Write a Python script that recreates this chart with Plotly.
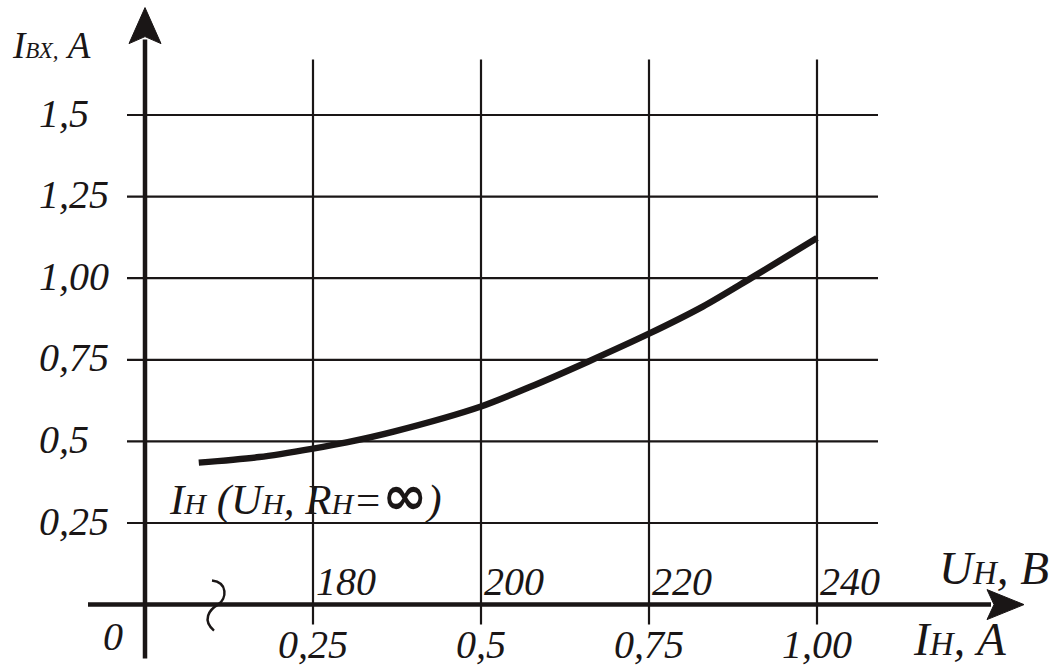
import plotly.graph_objects as go

# ---- data ----
i_load = [0.08, 0.17, 0.25, 0.30, 0.37, 0.50, 0.58, 0.66, 0.75, 0.83, 0.90, 1.00]
i_in = [0.435, 0.452, 0.478, 0.497, 0.530, 0.607, 0.673, 0.745, 0.830, 0.913, 0.998, 1.123]

y_ticks = [0.25, 0.5, 0.75, 1.0, 1.25, 1.5]
y_labels = ["0,25", "0,5", "0,75", "1,00", "1,25", "1,5"]
x_ticks = [0.25, 0.5, 0.75, 1.0]
x_labels = ["0,25", "0,5", "0,75", "1,00"]
u_labels = ["180", "200", "220", "240"]

W, H = 1061, 666
X0PX, XSC = 145.0, 672.0     # pixel of x=0, px per unit
Y0PX, YSC = 604.6, 326.4     # pixel of y=0, px per unit
XR = [-X0PX / XSC, (W - X0PX) / XSC]
YR = [-(H - Y0PX) / YSC, Y0PX / YSC]


def dx(p):  # pixel length -> x data length
    return p / XSC


def dy(p):
    return p / YSC


INK = "#1a1616"
FONT = "Liberation Serif"

fig = go.Figure()

shapes = []
# grid lines
gx0, gx1 = -dx(18), dx(733)
for yv in y_ticks:
    shapes.append(dict(type="line", xref="x", yref="y", x0=gx0, x1=gx1, y0=yv, y1=yv,
                       line=dict(color=INK, width=2.2), layer="below"))
gy0, gy1 = -dy(20), dy(545)
for xv in x_ticks:
    shapes.append(dict(type="line", xref="x", yref="y", x0=xv, x1=xv, y0=gy0, y1=gy1,
                       line=dict(color=INK, width=2.2), layer="below"))

# axes with arrows
ytip = dy(597)
ybase = ytip - dy(36)
shapes.append(dict(type="line", xref="x", yref="y", x0=0, x1=0, y0=-dy(54), y1=ybase + dy(4),
                   line=dict(color=INK, width=4.5)))
shapes.append(dict(type="path", xref="x", yref="y",
                   path=f"M {-dx(16)},{ybase} L 0,{ytip} L {dx(16)},{ybase} L 0,{ybase + dy(7)} Z",
                   fillcolor=INK, line=dict(color=INK, width=1)))
xtip = dx(879)
xbase = xtip - dx(37)
shapes.append(dict(type="line", xref="x", yref="y", x0=-dx(57), x1=xbase + dx(4), y0=0, y1=0,
                   line=dict(color=INK, width=4.5)))
shapes.append(dict(type="path", xref="x", yref="y",
                   path=f"M {xbase},{dy(15)} L {xtip},0 L {xbase},{-dy(15)} L {xbase + dx(7)},0 Z",
                   fillcolor=INK, line=dict(color=INK, width=1)))

# axis break mark
bx = dx(73)
shapes.append(dict(type="path", xref="x", yref="y",
                   path=(f"M {bx - dx(6)},{dy(24)} C {bx + dx(10)},{dy(22)} {bx + dx(9)},{dy(6)} {bx},0 "
                         f"C {bx - dx(9)},{-dy(5)} {bx - dx(16)},{-dy(16)} {bx - dx(4)},{-dy(26)}"),
                   line=dict(color=INK, width=2.5)))

fig.update_layout(shapes=shapes)

# curve
fig.add_trace(go.Scatter(x=i_load, y=i_in, mode="lines",
                         line=dict(color=INK, width=6.5, shape="spline", smoothing=0.8),
                         hoverinfo="skip", showlegend=False))

ann = []
for yv, lab in zip(y_ticks, y_labels):
    ann.append(dict(x=-dx(108), y=yv, text=f"<i>{lab}</i>", xanchor="left", yanchor="middle",
                    yshift=2))
for xv, lab in zip(x_ticks, x_labels):
    ann.append(dict(x=xv, y=-dy(40), text=f"<i>{lab}</i>", xanchor="center", yanchor="middle"))
for xv, lab in zip(x_ticks, u_labels):
    ann.append(dict(x=xv + dx(1), y=dy(23), text=f"<i>{lab}</i>", xanchor="left", yanchor="middle"))
ann.append(dict(x=-dx(32), y=-dy(32), text="<i>0</i>", xanchor="center", yanchor="middle"))
ann.append(dict(x=-dx(135), y=dy(559), xanchor="left", yanchor="middle",
                text="<i>I<span style='font-size:23px'>ВХ,</span> A</i>", font=dict(size=37)))
ann.append(dict(x=dx(792), y=dy(37), xanchor="left", yanchor="middle",
                text="<i>U<span style='font-size:33px'>Н</span>, B</i>", font=dict(size=47)))
ann.append(dict(x=dx(766), y=-dy(34), xanchor="left", yanchor="middle",
                text="<i>I<span style='font-size:33px'>Н</span>, A</i>", font=dict(size=47)))
ann.append(dict(x=dx(22), y=dy(109), xanchor="left", yanchor="middle",
                text="<i>I<span style='font-size:30px'>Н</span> (U<span style='font-size:30px'>Н</span>, "
                     "R<span style='font-size:30px'>Н</span>=</i>"
                     "<span style='font-family:DejaVu Sans;font-size:54px'><b>∞</b></span><i>)</i>",
                font=dict(size=43)))
for a in ann:
    a.setdefault("font", dict(size=40))
    a["font"] = dict(family=FONT, color=INK, **a["font"])
    a.update(xref="x", yref="y", showarrow=False)
fig.update_layout(annotations=ann)

fig.update_layout(
    width=W, height=H, margin=dict(l=0, r=0, t=0, b=0),
    paper_bgcolor="white", plot_bgcolor="white",
    xaxis=dict(range=XR, visible=False, fixedrange=True),
    yaxis=dict(range=YR, visible=False, fixedrange=True),
    showlegend=False,
)

fig.write_html("out.html", config={"displayModeBar": False},
               post_script="document.body.style.margin='0';document.body.style.overflow='hidden';")
